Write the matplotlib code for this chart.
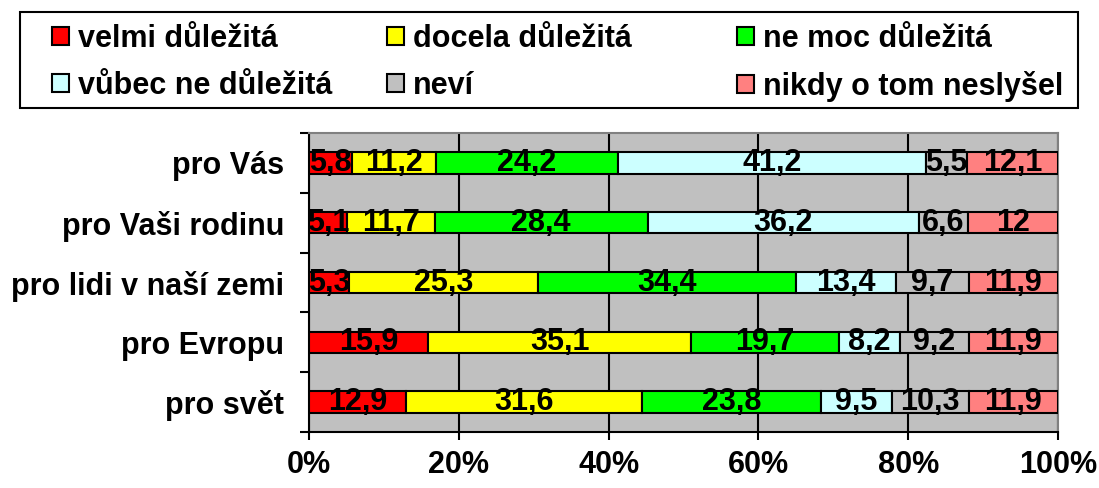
import numpy as np
import matplotlib.pyplot as plt
from matplotlib.patches import Patch, Rectangle

plt.rcParams['font.family'] = ['Liberation Sans', 'DejaVu Sans']
plt.rcParams['font.weight'] = 'bold'

categories = ['pro Vás', 'pro Vaši rodinu', 'pro lidi v naší zemi', 'pro Evropu', 'pro svět']
series = ['velmi důležitá', 'docela důležitá', 'ne moc důležitá',
          'vůbec ne důležitá', 'neví', 'nikdy o tom neslyšel']
colors = ['#FF0000', '#FFFF00', '#00FF00', '#CCFFFF', '#C0C0C0', '#FF8080']

velmi = [5.8, 5.1, 5.3, 15.9, 12.9]
docela = [11.2, 11.7, 25.3, 35.1, 31.6]
ne_moc = [24.2, 28.4, 34.4, 19.7, 23.8]
vubec = [41.2, 36.2, 13.4, 8.2, 9.5]
nevi = [5.5, 6.6, 9.7, 9.2, 10.3]
nikdy = [12.1, 12.0, 11.9, 11.9, 11.9]
values = [velmi, docela, ne_moc, vubec, nevi, nikdy]

FS = 22
W, H = 1099, 488

fig = plt.figure(figsize=(10.99, 4.88), dpi=100)
ax = fig.add_axes([309 / W, 1 - 432 / H, (1058 - 309) / W, (432 - 133) / H])
ax.set_facecolor('#C0C0C0')

y = np.arange(len(categories))
left = np.zeros(len(categories))
for name, vals, col in zip(series, values, colors):
    vals = np.array(vals)
    ax.barh(y, vals, left=left, height=0.36, color=col, edgecolor='black',
            linewidth=1.5, zorder=3)
    for yi, l, v in zip(y, left, vals):
        ax.text(l + v / 2, yi, f'{v:g}'.replace('.', ','), ha='center', va='center',
                fontsize=FS, fontweight='bold', zorder=4)
    left += vals

ax.set_xlim(0, 100)
ax.set_ylim(len(categories) - 0.5, -0.5)
ax.set_xticks(np.arange(0, 101, 20))
ax.set_xticklabels([f'{t}%' for t in range(0, 101, 20)], fontsize=FS, fontweight='bold')
ax.set_yticks(y)
ax.set_yticklabels(categories, fontsize=FS, fontweight='bold')
ax.set_yticks(np.arange(-0.5, len(categories)), minor=True)
ax.tick_params(axis='y', which='major', length=0, pad=18)
ax.tick_params(axis='y', which='minor', length=6.5, width=1.5, direction='out')
ax.tick_params(axis='x', length=6, width=1.5, direction='out', pad=7)
ax.grid(axis='x', color='black', linewidth=1.5, zorder=1)
ax.set_axisbelow(True)
for s in ['top', 'right']:
    ax.spines[s].set_color('#808080')
    ax.spines[s].set_linewidth(1.5)
for s in ['left', 'bottom']:
    ax.spines[s].set_color('black')
    ax.spines[s].set_linewidth(1.5)

# legend frame
fig.patches.append(Rectangle((20 / W, 1 - 108 / H), (1078 - 20) / W, 96 / H,
                             transform=fig.transFigure, facecolor='white',
                             edgecolor='black', linewidth=1.5, zorder=0))

# three legend columns, placed like the original
col_x = [52, 387, 737]
for c, x0 in enumerate(col_x):
    idx = [c, c + 3]
    handles = [Patch(facecolor=colors[i], edgecolor='black', linewidth=1.5) for i in idx]
    fig.legend(handles, [series[i] for i in idx], loc='upper left',
               bbox_to_anchor=(x0 / W, 1 - 24 / H), frameon=False,
               prop={'size': FS, 'weight': 'bold'}, handlelength=0.55,
               handleheight=0.55, handletextpad=0.3, borderpad=0,
               borderaxespad=0, labelspacing=0.55)

fig.savefig('out.png', dpi=100)
